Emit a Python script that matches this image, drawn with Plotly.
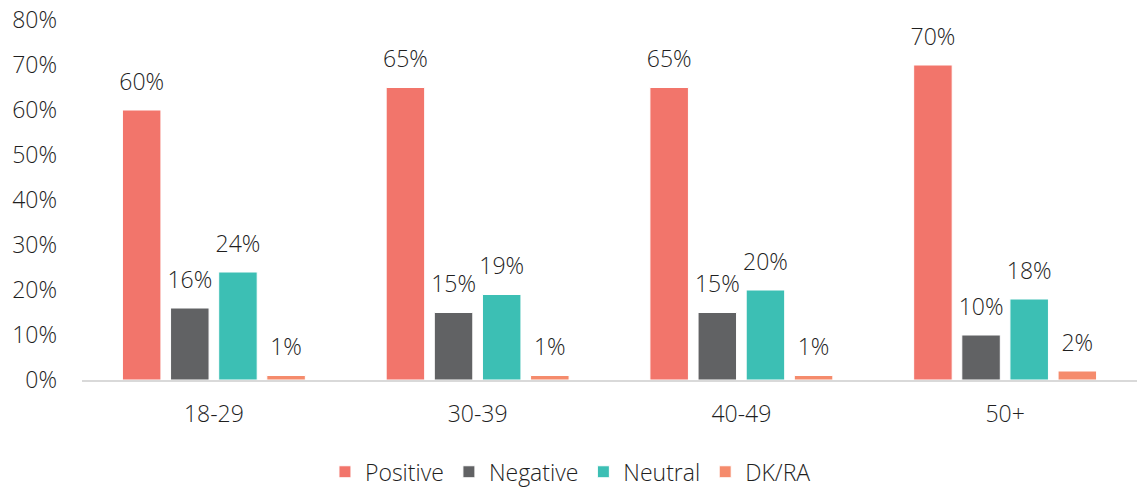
import plotly.graph_objects as go

categories = ["18-29", "30-39", "40-49", "50+"]
positive = [0.60, 0.65, 0.65, 0.70]
negative = [0.16, 0.15, 0.15, 0.10]
neutral = [0.24, 0.19, 0.20, 0.18]
dkra = [0.01, 0.01, 0.01, 0.02]

series = [
    ("Positive", positive, "#F2756B"),
    ("Negative", negative, "#616264"),
    ("Neutral", neutral, "#3CBFB4"),
    ("DK/RA", dkra, "#F58B6C"),
]

font_family = "Open Sans"
text_color = "#1F1F1F"
fsize = 23

fig = go.Figure()
for name, vals, color in series:
    fig.add_trace(go.Bar(
        x=categories, y=vals, name=name,
        marker=dict(color=color, line=dict(color="white", width=1)),
        texttemplate="<span style='font-size:%dpx'>%%{y:.0%%}</span><br> " % fsize,
        textposition="outside",
        constraintext="none",
        textfont=dict(family=font_family, size=11, color=text_color, weight=300),
        cliponaxis=False,
    ))

fig.update_layout(
    width=1137, height=492,
    margin=dict(l=82, r=0, t=20, b=112, autoexpand=False),
    paper_bgcolor="white", plot_bgcolor="white",
    barmode="group", bargap=0.27, bargroupgap=0.2,
    font=dict(family=font_family, size=fsize, color=text_color, weight=300),
    showlegend=True,
    legend=dict(orientation="h", x=0.463, xanchor="center", y=-0.255, yanchor="middle",
                font=dict(family=font_family, size=fsize, color=text_color, weight=300)),
    xaxis=dict(showline=True, linecolor="#D9D9D9", linewidth=2, ticks="",
               showgrid=False, automargin=False, ticklabelstandoff=12),
    yaxis=dict(range=[0, 0.8], dtick=0.1, tickformat=".0%", showgrid=False,
               showline=False, zeroline=False, ticks="", automargin=False,
               ticklabelstandoff=24),
)

fig.write_html("out.html", config={"displayModeBar": False},
               post_script="document.body.style.margin='0';")
